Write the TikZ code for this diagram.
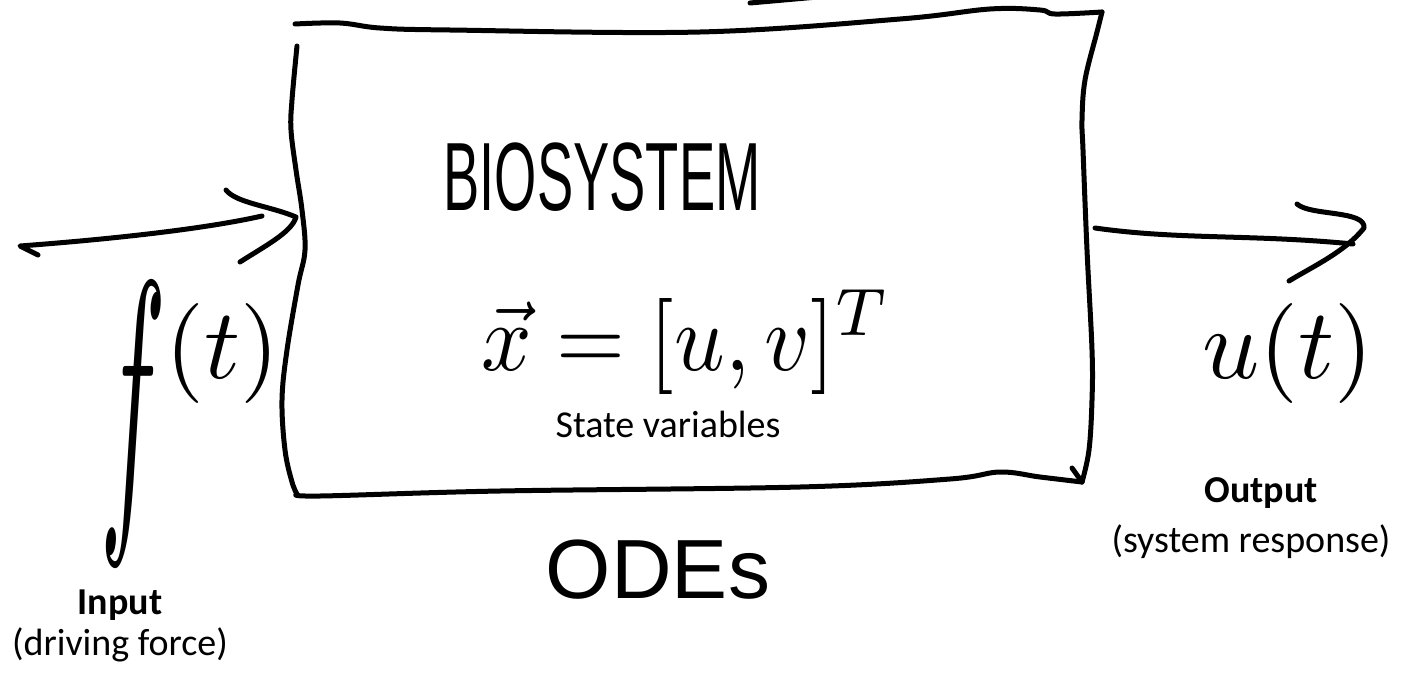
\documentclass[tikz,border=0pt]{standalone}
\usepackage{fontspec}
\newfontfamily\labelfont{Carlito}
\newfontfamily\handfont{Liberation Sans}
\begin{document}
\begin{tikzpicture}[x=1pt,y=-1pt,
  stroke/.style={draw=black, line width=5pt, line cap=round, line join=round},
  lbl/.style={font=\labelfont\fontsize{38}{44}\selectfont, inner sep=0pt, anchor=base},
  lblbold/.style={font=\labelfont\bfseries\fontsize{38}{44}\selectfont, inner sep=0pt, anchor=base},
  hand/.style={inner sep=0pt, anchor=base}]
\useasboundingbox (0,0) rectangle (1421,672);
\begin{scope}
\clip (0,0) rectangle (1421,672);
% box corners
\coordinate (tl) at (295,24);
\coordinate (tr) at (1102,12);
\coordinate (br) at (1082,482);
\coordinate (bl) at (297,494);
\coordinate (lt) at (297,46);
% top edge
\draw[stroke] plot[smooth, tension=0.6] coordinates {(tl) (340,23) (380,28) (450,30) (700,32) (900,19) (990,9) (1040,10) (1055,14) (tr)};
% right edge
\draw[stroke] plot[smooth, tension=0.6] coordinates {(tr) (1097,32) (1085,80) (1082,120) (1083,150) (1087,250) (1092,350) (1092,400) (1089,450) (br)};
% left edge
\draw[stroke] plot[smooth, tension=0.6] coordinates {(lt) (292,100) (291,130) (296,170) (302,210) (305,250) (298,285) (287,350) (282,400) (285,450) (292,482) (bl)};
% bottom edge
\draw[stroke] plot[smooth, tension=0.6] coordinates {(bl) (320,496) (500,491) (800,487) (950,479) (1000,472) (1040,477) (br)};
\coordinate (tick) at (1072,468);
\draw[stroke] (tick) -- (br);
% stray stroke at top
\coordinate (sA) at (750,3);
\coordinate (sB) at (840,-5);
\draw[stroke] (sA) -- (sB);
% input arrow
\coordinate (inH) at (38,255);
\coordinate (inA) at (20,246);
\coordinate (inB) at (262,216);
\coordinate (inT) at (296,217);
\coordinate (inU) at (226,190);
\coordinate (inL) at (240,262);
\draw[stroke] (inH) -- (inA) .. controls (100,240) and (200,230) .. (inB);
\draw[stroke] (inU) .. controls (236,203) and (270,206) .. (inT) .. controls (292,232) and (265,246) .. (inL);
% output arrow
\coordinate (outA) at (1095,228);
\coordinate (outB) at (1353,244);
\coordinate (outT) at (1364,228);
\coordinate (outU) at (1297,204);
\coordinate (outL) at (1289,281);
\draw[stroke] (outA) .. controls (1180,240) and (1250,234) .. (outB);
\draw[stroke] (outU) .. controls (1310,216) and (1366,210) .. (outT) .. controls (1345,252) and (1310,268) .. (outL);
\end{scope}
% handwritten texts
\node[hand] (bio) at (602,210) {\scalebox{0.56}[1]{\handfont\fontsize{97}{100}\selectfont BIOSYSTEM}};
\node[hand] (state) at (686,370) {\scalebox{8.85}[9.6]{$\vec{x}=[u,v]^{T}$}};
\node[lbl] (sv) at (668,437) {State variables};
\node[hand] (odes) at (658,598) {\handfont\fontsize{84}{90}\selectfont ODEs};
\node[hand, anchor=base west] (ft) at (100,378) {\scalebox{10}{$\raisebox{-12.57pt}{\scalebox{1.1}[3.18]{$f$}}(t)$}};
\node[hand] (ut) at (1288,378) {\scalebox{10}{$u(t)$}};
% labels
\node[lblbold] (inlbl) at (120,614) {Input};
\node[lbl] (indesc) at (120,655) {(driving force)};
\node[lblbold] (outlbl) at (1261,502) {Output};
\node[lbl] (outdesc) at (1251,552) {(system response)};
\end{tikzpicture}
\end{document}
